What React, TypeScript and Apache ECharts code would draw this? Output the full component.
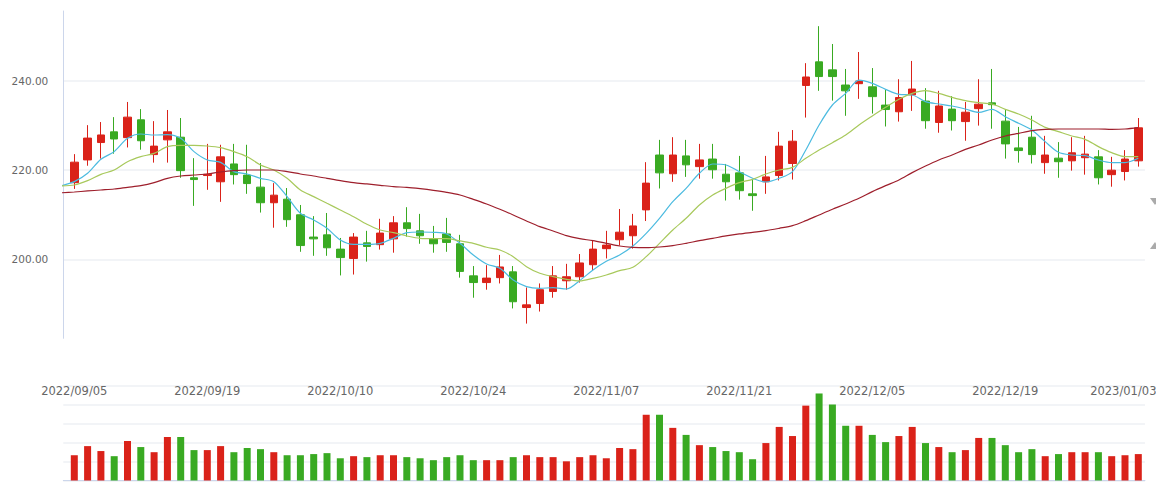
import React, { useEffect, useRef } from "react";
import * as echarts from "echarts";

const dates = [
  "2022/09/05", "2022/09/06", "2022/09/07", "2022/09/08", "2022/09/09", "2022/09/12", "2022/09/13", "2022/09/14", "2022/09/15", "2022/09/16",
  "2022/09/19", "2022/09/20", "2022/09/21", "2022/09/22", "2022/09/23", "2022/09/26", "2022/09/27", "2022/09/28", "2022/09/29", "2022/09/30",
  "2022/10/10", "2022/10/11", "2022/10/12", "2022/10/13", "2022/10/14", "2022/10/17", "2022/10/18", "2022/10/19", "2022/10/20", "2022/10/21",
  "2022/10/24", "2022/10/25", "2022/10/26", "2022/10/27", "2022/10/28", "2022/10/31", "2022/11/01", "2022/11/02", "2022/11/03", "2022/11/04",
  "2022/11/07", "2022/11/08", "2022/11/09", "2022/11/10", "2022/11/11", "2022/11/14", "2022/11/15", "2022/11/16", "2022/11/17", "2022/11/18",
  "2022/11/21", "2022/11/22", "2022/11/23", "2022/11/24", "2022/11/25", "2022/11/28", "2022/11/29", "2022/11/30", "2022/12/01", "2022/12/02",
  "2022/12/05", "2022/12/06", "2022/12/07", "2022/12/08", "2022/12/09", "2022/12/12", "2022/12/13", "2022/12/14", "2022/12/15", "2022/12/16",
  "2022/12/19", "2022/12/20", "2022/12/21", "2022/12/22", "2022/12/23", "2022/12/26", "2022/12/27", "2022/12/28", "2022/12/29", "2022/12/30",
  "2023/01/03",
];

const openP = [
  217.2, 222.3, 226.2, 228.6, 227.3, 231.3, 223.5, 226.8, 227.4, 218.3,
  218.8, 217.4, 221.4, 218.9, 216.2, 212.7, 213.5, 210.0, 205.0, 205.5,
  202.3, 200.2, 203.7, 203.3, 204.6, 208.2, 206.4, 204.6, 205.7, 203.5,
  196.3, 194.8, 195.9, 197.2, 189.2, 190.1, 192.8, 195.2, 196.1, 198.8,
  202.4, 204.4, 205.3, 211.1, 223.4, 219.2, 223.2, 220.8, 222.5, 219.1,
  219.4, 214.7, 217.4, 218.8, 221.5, 239.0, 244.3, 242.5, 239.1, 239.4,
  238.7, 234.6, 233.1, 236.9, 235.5, 230.7, 233.7, 230.9, 233.8, 235.1,
  231.0, 225.0, 227.4, 221.7, 222.7, 222.1, 222.8, 223.0, 219.0, 219.7,
  222.1,
];

const closeP = [
  221.8, 227.2, 227.9, 227.0, 231.9, 226.6, 225.4, 228.6, 219.9, 217.9,
  219.1, 223.0, 219.0, 217.0, 212.7, 214.4, 208.9, 203.1, 204.6, 202.6,
  200.4, 205.0, 202.9, 205.9, 208.2, 206.9, 205.3, 203.5, 203.8, 197.3,
  194.8, 195.8, 198.3, 190.5, 189.8, 193.2, 196.3, 196.1, 199.2, 202.3,
  203.2, 206.1, 207.5, 217.1, 219.4, 223.4, 221.2, 222.3, 220.1, 217.4,
  215.4, 214.3, 218.5, 225.4, 226.5, 240.9, 241.0, 241.0, 237.8, 240.0,
  236.5, 233.6, 236.3, 238.2, 231.1, 234.4, 231.1, 233.0, 234.8, 234.7,
  225.9, 224.4, 223.5, 223.4, 221.9, 223.9, 223.6, 218.3, 220.0, 222.5,
  229.5,
];

const lowP = [
  215.8, 221.0, 222.6, 223.7, 225.1, 224.6, 221.7, 221.7, 218.3, 212.0,
  215.6, 212.9, 216.8, 214.7, 210.5, 207.1, 207.3, 201.7, 200.8, 200.8,
  196.4, 196.6, 199.5, 202.2, 201.5, 205.1, 203.5, 201.5, 201.7, 195.9,
  191.4, 193.2, 194.6, 189.0, 185.6, 188.3, 191.4, 193.2, 194.8, 197.6,
  200.2, 203.1, 202.4, 208.6, 215.9, 217.4, 218.5, 218.1, 218.1, 213.2,
  213.4, 210.9, 214.7, 217.7, 217.9, 231.8, 237.8, 235.6, 232.2, 236.0,
  232.7, 229.8, 230.9, 233.3, 229.3, 228.4, 228.9, 226.6, 230.0, 229.3,
  222.6, 221.7, 221.5, 219.2, 218.3, 219.9, 219.0, 216.8, 216.3, 217.7,
  220.8,
];

const highP = [
  223.6, 230.1, 230.8, 231.9, 235.3, 233.7, 231.0, 233.5, 231.7, 222.7,
  225.9, 225.7, 225.9, 225.7, 221.6, 217.1, 216.0, 212.2, 209.7, 210.4,
  204.8, 205.9, 206.4, 209.1, 209.7, 211.7, 210.2, 207.5, 209.3, 205.5,
  198.5, 198.7, 201.0, 198.5, 193.7, 194.6, 198.5, 199.0, 201.2, 204.3,
  206.4, 211.3, 210.2, 221.8, 226.8, 227.4, 226.8, 225.9, 225.9, 221.4,
  223.2, 217.9, 223.2, 228.6, 229.0, 244.0, 252.3, 248.3, 242.7, 246.5,
  242.9, 238.0, 240.4, 244.5, 238.4, 237.8, 236.6, 235.3, 240.4, 242.7,
  233.5, 229.7, 232.2, 227.7, 226.3, 227.4, 227.7, 224.5, 223.0, 224.5,
  231.7,
];

const volumes = [
  1.33, 1.81, 1.55, 1.28, 2.08, 1.76, 1.49, 2.29, 2.29, 1.60,
  1.60, 1.81, 1.49, 1.71, 1.65, 1.49, 1.33, 1.33, 1.39, 1.44,
  1.17, 1.28, 1.23, 1.33, 1.33, 1.23, 1.17, 1.07, 1.23, 1.33,
  1.07, 1.07, 1.07, 1.23, 1.33, 1.23, 1.23, 1.01, 1.23, 1.33,
  1.17, 1.71, 1.65, 3.46, 3.46, 2.77, 2.40, 1.86, 1.76, 1.55,
  1.49, 1.12, 1.97, 2.82, 2.34, 3.94, 4.58, 4.00, 2.88, 2.88,
  2.40, 2.02, 2.34, 2.82, 1.97, 1.76, 1.49, 1.60, 2.24, 2.24,
  1.86, 1.49, 1.65, 1.28, 1.39, 1.49, 1.49, 1.49, 1.28, 1.33,
  1.39,
];

// moving averages; the first value belongs to the trading day before 2022/09/05
const ma5 = [
  216.5,
  217.43, 219.30, 222.44, 224.16, 227.14, 228.12, 227.89, 227.97, 227.14, 224.16,
  222.29, 221.76, 219.67, 219.15, 218.18, 217.43, 214.07, 210.33, 208.83, 206.97,
  204.35, 203.38, 203.38, 203.60, 204.72, 205.99, 206.14, 206.07, 205.70, 203.60,
  200.99, 198.97, 198.00, 195.38, 193.89, 193.51, 193.66, 193.36, 195.23, 197.62,
  199.57, 200.99, 203.00, 205.84, 209.21, 212.94, 215.93, 219.30, 221.39, 221.17,
  219.67, 218.18, 217.35, 218.18, 219.67, 224.53, 230.13, 234.62, 237.23, 240.22,
  239.48, 238.13, 237.01, 236.86, 235.37, 234.84, 234.39, 233.72, 232.97, 233.65,
  232.00, 230.51, 229.01, 226.40, 224.01, 223.41, 223.26, 222.29, 221.69, 221.69,
  222.66,
];

const ma10 = [
  216.5,
  216.68, 217.65, 219.07, 220.04, 221.91, 223.03, 223.78, 225.28, 225.58, 225.58,
  225.43, 225.05, 224.16, 223.03, 221.17, 220.04, 218.18, 215.56, 214.07, 212.57,
  211.08, 209.58, 207.86, 206.59, 205.99, 205.25, 204.72, 204.65, 204.65, 204.13,
  203.60, 202.71, 202.11, 200.61, 198.37, 196.88, 196.13, 195.53, 195.16, 195.75,
  196.50, 197.47, 198.22, 200.61, 203.60, 206.59, 209.21, 212.20, 214.44, 215.93,
  217.20, 217.95, 219.15, 220.04, 220.64, 222.66, 224.53, 226.17, 227.89, 230.13,
  232.15, 234.10, 235.89, 237.23, 237.83, 237.23, 236.34, 235.59, 235.14, 234.84,
  233.65, 232.60, 231.26, 229.61, 228.64, 227.67, 226.92, 225.28, 223.93, 223.03,
  223.03,
];

const ma30 = [
  214.93,
  215.11, 215.34, 215.56, 215.78, 216.16, 216.53, 217.20, 218.18, 218.70, 218.92,
  219.15, 219.60, 219.90, 220.04, 220.04, 220.04, 219.67, 219.15, 218.70, 218.18,
  217.65, 217.20, 216.91, 216.61, 216.31, 216.16, 215.86, 215.49, 215.04, 214.44,
  213.47, 212.42, 211.23, 209.96, 208.61, 207.34, 206.37, 205.32, 204.65, 204.20,
  203.60, 203.00, 202.71, 202.63, 202.78, 203.08, 203.60, 204.20, 204.72, 205.25,
  205.70, 206.07, 206.44, 206.97, 207.56, 208.68, 209.96, 211.23, 212.42, 213.69,
  215.19, 216.53, 217.80, 219.45, 220.94, 222.29, 223.41, 224.68, 225.65, 226.77,
  227.67, 228.27, 228.86, 229.16, 229.24, 229.24, 229.24, 229.24, 229.16, 229.24,
  229.54,
];

const UP = "#da2219";
const DOWN = "#39aa22";
const AXIS_LINE = "#ccd6eb";
const SPLIT = "#eef0f4";
const LABEL = "#666";

const PRICE_MIN = 182.3;
const PRICE_MAX = 255.7;

export default function App() {
  const ref = useRef<HTMLDivElement>(null);

  useEffect(() => {
    const el = ref.current;
    if (!el) return;
    const chart = echarts.init(el, null, { renderer: "svg" });

    const W = 1156;
    const axisLeft = 63.3;
    const plotLeft = 67.65;
    const rightGap = 11.05;
    const band = (W - rightGap - plotLeft) / dates.length;
    const lineMin = -0.5 - (plotLeft - axisLeft) / band;
    const lineMax = dates.length - 0.5;

    const mainTop = 11;
    const mainHeight = 327.3;
    const volTop = 385.5;
    const volHeight = 95;

    const maSeries = (name: string, arr: number[], color: string) => ({
      name,
      type: "line",
      xAxisIndex: 0,
      yAxisIndex: 0,
      data: arr.map((v, i) => [i - 1, v]),
      symbol: "none",
      smooth: 0.3,
      lineStyle: { color, width: 1.2 },
      z: 3,
    });

    const option: any = {
      animation: false,
      backgroundColor: "#fff",
      grid: [
        { left: axisLeft, right: rightGap, top: mainTop, height: mainHeight, outerBoundsMode: "none" },
        { left: plotLeft, right: rightGap, top: mainTop, height: mainHeight, outerBoundsMode: "none" },
        { left: axisLeft, right: rightGap, top: volTop, height: volHeight, outerBoundsMode: "none" },
        { left: plotLeft, right: rightGap, top: volTop, height: volHeight, outerBoundsMode: "none" },
      ],
      xAxis: [
        { type: "value", gridIndex: 0, min: lineMin, max: lineMax, show: false },
        {
          type: "category",
          gridIndex: 1,
          data: dates,
          boundaryGap: true,
          axisLine: { show: false },
          axisTick: { show: false },
          splitLine: { show: false },
          axisLabel: {
            interval: 9,
            margin: 47,
            color: LABEL,
            fontSize: 11.5,
            fontFamily: "DejaVu Sans",
            formatter: (val: string, idx: number) =>
              idx === dates.length - 1 ? `{last|${val}}` : val,
            rich: {
              last: {
                color: LABEL,
                fontSize: 11.5,
                fontFamily: "DejaVu Sans",
                padding: [0, 30, 0, 0],
              },
            },
          },
        },
        {
          type: "value",
          gridIndex: 2,
          min: 0,
          max: 1,
          axisLine: { show: true, onZero: false, lineStyle: { color: AXIS_LINE, width: 1 } },
          axisTick: { show: false },
          axisLabel: { show: false },
          splitLine: { show: false },
        },
        { type: "category", gridIndex: 3, data: dates, boundaryGap: true, show: false },
      ],
      yAxis: [
        {
          type: "value",
          gridIndex: 0,
          min: PRICE_MIN,
          max: PRICE_MAX,
          splitNumber: 3,
          axisLine: { show: true, onZero: false, lineStyle: { color: AXIS_LINE, width: 1 } },
          axisTick: { show: false },
          axisLabel: {
            margin: 15,
            color: LABEL,
            fontSize: 10.5,
            fontFamily: "DejaVu Sans",
            showMinLabel: false,
            showMaxLabel: false,
            formatter: (v: number) => (Math.abs(v % 20) < 1e-6 ? v.toFixed(2) : ""),
          },
          splitLine: {
            show: true,
            showMinLine: false,
            showMaxLine: false,
            lineStyle: { color: SPLIT, width: 1.5 },
          },
        },
        { type: "value", gridIndex: 1, min: PRICE_MIN, max: PRICE_MAX, show: false, splitLine: { show: false } },
        {
          type: "value",
          gridIndex: 2,
          min: 0,
          max: 5,
          interval: 1,
          axisLine: { show: false },
          axisTick: { show: false },
          axisLabel: { show: false },
          splitLine: { show: true, lineStyle: { color: SPLIT, width: 1.5 } },
        },
        { type: "value", gridIndex: 3, min: 0, max: 5, show: false, splitLine: { show: false } },
      ],
      series: [
        {
          name: "K",
          type: "candlestick",
          xAxisIndex: 1,
          yAxisIndex: 1,
          barWidth: 8,
          data: dates.map((_, i) => [openP[i], closeP[i], lowP[i], highP[i]]),
          itemStyle: {
            color: UP,
            color0: DOWN,
            borderColor: UP,
            borderColor0: DOWN,
            borderWidth: 1,
          },
          z: 2,
        },
        maSeries("MA5", ma5, "#4cbbe0"),
        maSeries("MA10", ma10, "#a8c95c"),
        maSeries("MA30", ma30, "#9e1f2c"),
        {
          name: "Volume",
          type: "bar",
          xAxisIndex: 3,
          yAxisIndex: 3,
          barWidth: 7,
          data: volumes.map((v, i) => ({
            value: v,
            itemStyle: { color: closeP[i] >= openP[i] ? UP : DOWN },
          })),
        },
      ],
      graphic: [
        {
          type: "polygon",
          shape: { points: [[1150, 198], [1160, 198], [1155, 205]] },
          style: { fill: "#aaaaaa" },
        },
        {
          type: "polygon",
          shape: { points: [[1150, 249], [1160, 249], [1155, 242]] },
          style: { fill: "#aaaaaa" },
        },
      ],
    };

    chart.setOption(option);
    return () => chart.dispose();
  }, []);

  return (
    <div
      ref={ref}
      style={{ position: "fixed", left: 0, top: 0, width: 1156, height: 484 }}
    />
  );
}
